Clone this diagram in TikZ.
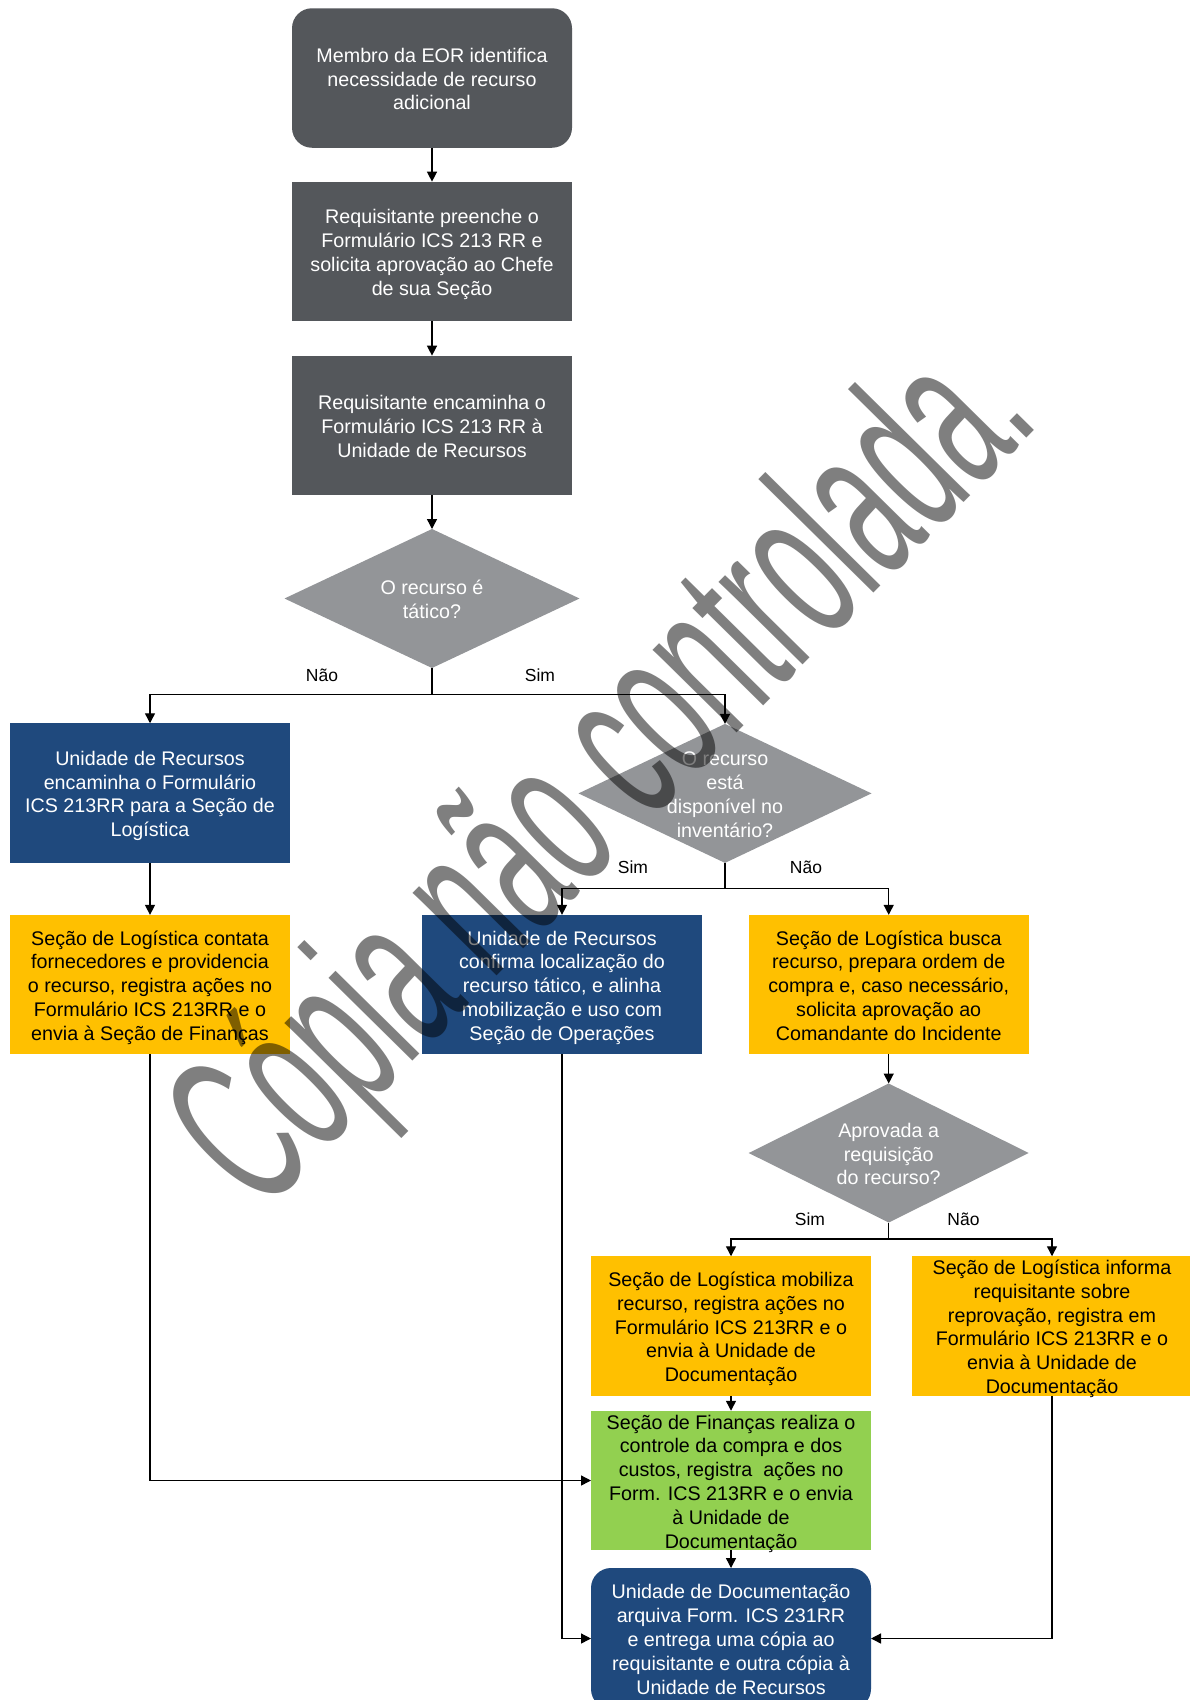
\documentclass[tikz,border=0pt]{standalone}
\usepackage{fontspec}
\setmainfont{Liberation Sans}
\usetikzlibrary{arrows.meta,shapes.geometric}
\definecolor{slate}{HTML}{54575B}
\definecolor{decgray}{HTML}{939598}
\definecolor{navy}{HTML}{1F497D}
\definecolor{amber}{HTML}{FFC000}
\definecolor{leaf}{HTML}{92D050}

\begin{document}
\begin{tikzpicture}[x=1pt,y=-1pt,
  every node/.style={inner sep=0pt, outer sep=0pt},
  txt/.style={font=\fontsize{19.7}{23.8}\selectfont, align=center},
  % uniform line boxes so that descenders do not shift the text block
  l2/.style={text height=39.8pt, text depth=0pt},
  l3/.style={text height=63.6pt, text depth=0pt},
  l4/.style={text height=87.4pt, text depth=0pt},
  l5/.style={text height=111.2pt, text depth=0pt},
  l6/.style={text height=135pt, text depth=0pt},
  box/.style={txt, rectangle, minimum width=280pt, minimum height=139.5pt},
  greybox/.style={box, fill=slate, text=white},
  bluebox/.style={box, fill=navy, text=white},
  yellowbox/.style={box, fill=amber, text=black},
  greenbox/.style={box, fill=leaf, text=black},
  decision/.style={diamond, fill=decgray, minimum width=#1, minimum height=139pt},
  dtext/.style={txt, text=white},
  branch/.style={font=\fontsize{17.5}{20}\selectfont, text=black},
  wire/.style={draw=black, line width=1.4pt},
  flow/.style={wire, -{Triangle[length=10pt,width=10pt]}},
]
\useasboundingbox (0,0) rectangle (1190,1700);
\clip (0,0) rectangle (1190,1700);
\fill[white] (0,0) rectangle (1190,1700);

% main column
\node[greybox, l3, rounded corners=20pt] (b1) at (432,78)
  {Membro da EOR identifica\\necessidade de recurso\\adicional};
\node[greybox, l4] (b2) at (432,251.4)
  {Requisitante preenche o\\Formulário ICS 213 RR e\\solicita aprovação ao Chefe\\de sua Seção};
\node[greybox, l3] (b3) at (432,425.4)
  {Requisitante encaminha o\\Formulário ICS 213 RR à\\Unidade de Recursos};
\node[decision=295pt,
  label={[dtext, l2]center:{O recurso é\\tático?}}] (d1) at (432,598.5) {};

% left branch
\node[bluebox, l4] (l1) at (150,793)
  {Unidade de Recursos\\encaminha o Formulário\\ICS 213RR para a Seção de\\Logística};
\node[yellowbox, l5] (l2) at (150,984.6)
  {Seção de Logística contata\\fornecedores e providencia\\o recurso, registra ações no\\Formulário ICS 213RR e o\\envia à Seção de Finanças};

% inventory decision
\node[decision=293pt,
  label={[dtext, l4]center:{O recurso\\está\\disponível no\\inventário?}}] (d2) at (725,793.4) {};
\node[bluebox, l5] (m) at (562,984.6)
  {Unidade de Recursos\\confirma localização do\\recurso tático, e alinha\\mobilização e uso com\\Seção de Operações};
\node[yellowbox, l5] (r) at (888.7,984.6)
  {Seção de Logística busca\\recurso, prepara ordem de\\compra e, caso necessário,\\solicita aprovação ao\\Comandante do Incidente};

% approval decision
\node[decision=280pt,
  label={[dtext, l3]center:{Aprovada a\\requisição\\do recurso?}}] (d3) at (888.7,1153) {};
\node[yellowbox, l5] (y1) at (731,1326)
  {Seção de Logística mobiliza\\recurso, registra ações no\\Formulário ICS 213RR e o\\envia à Unidade de\\Documentação};
\node[yellowbox, l6] (y2) at (1052,1326)
  {Seção de Logística informa\\requisitante sobre\\reprovação, registra em\\Formulário ICS 213RR e o\\envia à Unidade de\\Documentação};
\node[greenbox, l6] (g) at (731,1480.5)
  {Seção de Finanças realiza o\\controle da compra e dos\\custos, registra \ ações no\\Form. ICS 213RR e o envia\\à Unidade de\\Documentação};
\node[bluebox, l5, rounded corners=20pt, minimum height=141pt] (f) at (731,1638.5)
  {Unidade de Documentação\\arquiva Form. ICS 231RR\\e entrega uma cópia ao\\requisitante e outra cópia à\\Unidade de Recursos};

% branch labels
\node[branch] (n1) at (322,675) {Não};
\node[branch] (s1) at (540,675) {Sim};
\node[branch] (s2) at (633,867) {Sim};
\node[branch] (n2) at (806,867) {Não};
\node[branch] (s3) at (810,1219) {Sim};
\node[branch] (n3) at (963.5,1219) {Não};

% connectors
\coordinate (j1) at (432,694.7);
\coordinate (j2) at (725,888.7);
\coordinate (j3) at (888.7,1238.8);

\draw[flow] (b1) -- (b2);
\draw[flow] (b2) -- (b3);
\draw[flow] (b3) -- (d1);
\draw[wire] (d1.south) -- (j1);
\draw[flow] (j1) -| (l1.north);
\draw[flow] (j1) -| (d2.north);
\draw[flow] (l1) -- (l2);
\draw[wire] (d2.south) -- (j2);
\draw[flow] (j2) -| (m.north);
\draw[flow] (j2) -| (r.north);
\draw[flow] (r) -- (d3);
\draw[wire] (d3.south) -- (j3);
\draw[flow] (j3) -| (y1.north);
\draw[flow] (j3) -| (y2.north);
\draw[flow] (y1) -- (g);
\draw[flow] (g) -- (f);
\draw[flow] (l2.south) |- (g.west);
\draw[flow] (m.south) |- (f.west);
\draw[flow] (y2.south) |- (f.east);

% watermark
\node[rotate=45.4, xscale=0.51, anchor=base west,
  font=\fontsize{223}{223}\selectfont, text=black, text opacity=0.5]
  (wm) at (261,1215) {Cópia não controlada.};
\end{tikzpicture}
\end{document}
